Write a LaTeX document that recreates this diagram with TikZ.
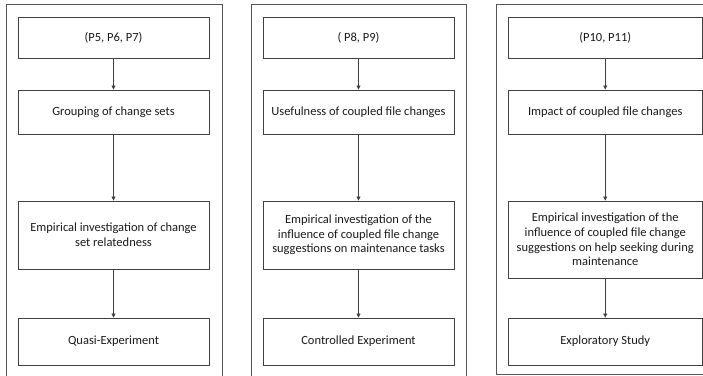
\documentclass[tikz,border=0pt]{standalone}
\usepackage{fontspec}
\setmainfont{Carlito}
\usetikzlibrary{arrows.meta}
\definecolor{edge}{HTML}{404040}
\definecolor{frame}{HTML}{555555}
\definecolor{txt}{HTML}{1A1A1A}
\begin{document}
\begin{tikzpicture}[x=1pt,y=-1pt,
  box/.style={draw=edge, line width=0.9pt, rectangle, inner sep=0pt, align=center,
    text=txt, font=\fontsize{12.5}{14.7}\selectfont},
  panel/.style={draw=frame, line width=0.9pt},
  flow/.style={draw=edge, line width=0.8pt, -{Triangle[length=4pt,width=4pt]}}]
\useasboundingbox (0,0) rectangle (703,375);
\clip (0,0) rectangle (703,375);
% panel frames
\draw[panel] (6,376) -- (6,4) -- (222,4) -- (222,376);
\draw[panel] (251,376) -- (251,4) -- (466,4) -- (466,376);
\draw[panel] (496,4) rectangle (710,374);
% panel 1
\node[box, minimum width=191pt, minimum height=41pt] (a1) at (113.5,37.5) {(P5, P6, P7)};
\node[box, minimum width=191pt, minimum height=44pt] (a2) at (113.5,112) {Grouping of change sets};
\node[box, minimum width=191pt, minimum height=68pt] (a3) at (113.5,235) {Empirical investigation of change\\set relatedness};
\node[box, minimum width=191pt, minimum height=47pt] (a4) at (113.5,341.5) {Quasi-Experiment};
\draw[flow] (a1) -- (a2);
\draw[flow] (a2) -- (a3);
\draw[flow] (a3) -- (a4);
% panel 2
\node[box, minimum width=191pt, minimum height=41pt] (b1) at (358.5,37.5) {( P8, P9)};
\node[box, minimum width=191pt, minimum height=44pt] (b2) at (358.5,112) {Usefulness of coupled file changes};
\node[box, minimum width=191pt, minimum height=68pt] (b3) at (358.5,235) {Empirical investigation of the\\influence of coupled file change\\suggestions on maintenance tasks};
\node[box, minimum width=191pt, minimum height=47pt] (b4) at (358.5,341.5) {Controlled Experiment};
\draw[flow] (b1) -- (b2);
\draw[flow] (b2) -- (b3);
\draw[flow] (b3) -- (b4);
% panel 3
\node[box, minimum width=194.5pt, minimum height=41pt] (c1) at (605.25,37.5) {(P10, P11)};
\node[box, minimum width=194.5pt, minimum height=44pt] (c2) at (605.25,112) {Impact of coupled file changes};
\node[box, minimum width=194.5pt, minimum height=77pt] (c3) at (605.25,239.5) {Empirical investigation of the\\influence of coupled file change\\suggestions on help seeking during\\maintenance};
\node[box, minimum width=194.5pt, minimum height=47pt] (c4) at (605.25,341.5) {Exploratory Study};
\draw[flow] (c1) -- (c2);
\draw[flow] (c2) -- (c3);
\draw[flow] (c3) -- (c4);
\end{tikzpicture}
\end{document}
